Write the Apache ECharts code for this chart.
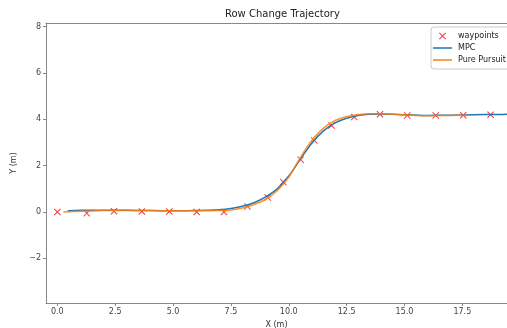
<!DOCTYPE html>
<html>
<head>
<meta charset="utf-8">
<script src="https://cdn.jsdelivr.net/npm/echarts@6/dist/echarts.min.js"></script>
<style>
  html, body { margin: 0; padding: 0; background: #fff; }
  #chart { width: 507px; height: 328px; }
</style>
</head>
<body>
<div id="chart"></div>
<script>
// waypoints (red x)
const wayX = [0, 1.27, 2.45, 3.65, 4.84, 6.02, 7.2, 8.21, 9.09, 9.76, 10.51, 11.1, 11.85, 12.83, 13.94, 15.12, 16.35, 17.54, 18.72];
const wayY = [0, -0.05, 0.03, 0.02, 0.02, 0.0, 0.0, 0.24, 0.63, 1.3, 2.26, 3.09, 3.73, 4.1, 4.22, 4.17, 4.17, 4.18, 4.2];

// MPC trajectory
const mpcX = [0.45, 1, 2, 3, 4, 5, 6, 7, 7.5, 8, 8.5, 9, 9.5, 10, 10.5, 11, 11.5, 12, 12.5, 13, 13.5, 14, 15, 16, 17, 18, 19, 19.6];
const mpcY = [0.05, 0.07, 0.08, 0.08, 0.06, 0.05, 0.06, 0.1, 0.15, 0.25, 0.4, 0.65, 1.0, 1.55, 2.28, 2.98, 3.5, 3.85, 4.05, 4.17, 4.22, 4.23, 4.2, 4.17, 4.18, 4.2, 4.21, 4.22];

// Pure Pursuit trajectory
const ppX = [0.26, 1, 2, 3, 4, 5, 6, 7, 7.5, 8, 8.5, 9, 9.5, 10, 10.5, 11, 11.5, 12, 12.5, 13, 13.5, 14, 15, 16, 17, 17.7];
const ppY = [0.0, 0.03, 0.06, 0.07, 0.06, 0.05, 0.05, 0.06, 0.09, 0.17, 0.32, 0.55, 0.92, 1.5, 2.35, 3.1, 3.62, 3.95, 4.12, 4.2, 4.24, 4.24, 4.2, 4.15, 4.17, 4.18];

const xTicks = [0, 2.5, 5, 7.5, 10, 12.5, 15, 17.5];
const yTicks = [-2, 0, 2, 4, 6, 8];

const zip = (xs, ys) => xs.map((x, i) => [x, ys[i]]);
const xMark = 'path://M0,1 L1,0 L5,4 L9,0 L10,1 L6,5 L10,9 L9,10 L5,6 L1,10 L0,9 L4,5 Z';
const lineIcon = 'path://M0,0 L20,0 L20,1.6 L0,1.6 Z';
const font = 'DejaVu Sans';

const chart = echarts.init(document.getElementById('chart'));
chart.setOption({
  animation: false,
  textStyle: { fontFamily: font },
  title: {
    text: 'Row Change Trajectory',
    left: 220,
    top: 4,
    textStyle: { fontFamily: font, fontSize: 10, fontWeight: 'normal', color: '#222' }
  },
  legend: {
    orient: 'vertical',
    left: 431,
    top: 27,
    padding: [5, 30, 5, 2],
    itemWidth: 19,
    itemHeight: 7,
    itemGap: 4,
    backgroundColor: '#fff',
    borderColor: '#ccc',
    borderWidth: 1,
    borderRadius: 3,
    textStyle: { fontFamily: font, fontSize: 8, color: '#222', padding: [0, 0, 0, 1] },
    data: [
      { name: 'waypoints', icon: xMark, itemStyle: { color: '#ff0000' } },
      { name: 'MPC', icon: lineIcon, itemStyle: { color: '#1f77b4' } },
      { name: 'Pure Pursuit', icon: lineIcon, itemStyle: { color: '#ff7f0e' } }
    ]
  },
  grid: { left: 46, right: 0, top: 23, bottom: 25, outerBoundsMode: 'none', containLabel: false },
  xAxis: [{
    type: 'value',
    min: -0.49,
    max: 19.43,
    name: 'X (m)',
    nameLocation: 'middle',
    nameGap: 15,
    nameTextStyle: { fontFamily: font, fontSize: 8, color: '#333' },
    splitLine: { show: false },
    axisLine: { show: true, onZero: false, lineStyle: { color: '#888', width: 1 } },
    axisTick: { show: true, length: 3, customValues: xTicks, lineStyle: { color: '#888' } },
    axisLabel: {
      customValues: xTicks,
      formatter: v => v.toFixed(1),
      fontFamily: font, fontSize: 8, color: '#444', margin: 5
    }
  }, {
    type: 'value',
    position: 'top',
    min: -0.49,
    max: 19.43,
    splitLine: { show: false },
    axisLine: { show: true, onZero: false, lineStyle: { color: '#888', width: 1 } },
    axisTick: { show: false },
    axisLabel: { show: false }
  }],
  yAxis: {
    type: 'value',
    min: -3.93,
    max: 8.16,
    name: 'Y (m)',
    nameLocation: 'middle',
    nameGap: 23,
    nameRotate: 90,
    nameTextStyle: { fontFamily: font, fontSize: 8, color: '#333' },
    splitLine: { show: false },
    axisLine: { show: true, onZero: false, lineStyle: { color: '#888', width: 1 } },
    axisTick: { show: true, length: 3, customValues: yTicks, lineStyle: { color: '#888' } },
    axisLabel: {
      customValues: yTicks,
      formatter: v => String(v).replace('-', '\u2212'),
      fontFamily: font, fontSize: 8, color: '#444', margin: 5
    }
  },
  series: [
    {
      name: 'waypoints',
      type: 'scatter',
      symbol: xMark,
      symbolSize: 7,
      itemStyle: { color: '#ff0000' },
      z: 1,
      data: zip(wayX, wayY)
    },
    {
      name: 'MPC',
      type: 'line',
      symbol: 'none',
      smooth: 0.3,
      lineStyle: { color: '#1f77b4', width: 1.5 },
      itemStyle: { color: '#1f77b4' },
      z: 2,
      data: zip(mpcX, mpcY)
    },
    {
      name: 'Pure Pursuit',
      type: 'line',
      symbol: 'none',
      smooth: 0.3,
      lineStyle: { color: '#ff7f0e', width: 1.5, opacity: 0.85 },
      itemStyle: { color: '#ff7f0e' },
      z: 3,
      data: zip(ppX, ppY)
    }
  ]
});
</script>
</body>
</html>
